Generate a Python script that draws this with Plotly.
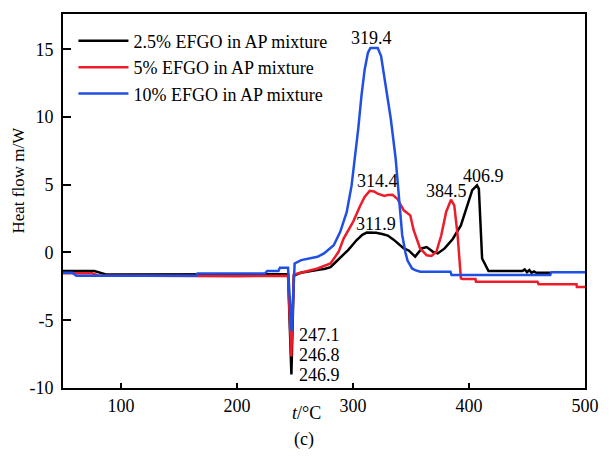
import plotly.graph_objects as go

# ---------------- data ----------------
series_names = ["2.5% EFGO in AP mixture", "5% EFGO in AP mixture", "10% EFGO in AP mixture"]

t_black = [50, 77, 87, 165, 200, 225, 240, 244, 246.9, 249, 255, 262, 269, 276, 280.6, 283.4, 290,
           296, 303, 308, 311.9, 320, 326, 330, 335, 340, 343.8, 348, 353.6, 359.3, 363.5, 369, 373,
           379, 386, 393, 398.6, 402.8, 406.9, 408.5, 411.3, 414, 416.8, 446, 448, 450, 452, 454,
           456, 458, 470]
hf_black = [-1.37, -1.37, -1.62, -1.62, -1.65, -1.65, -1.62, -1.6, -9.0, -1.7, -1.5, -1.42, -1.3,
            -1.2, -1.08, -0.85, -0.3, 0.2, 0.9, 1.3, 1.47, 1.45, 1.35, 1.25, 0.95, 0.55, 0.3, 0.15,
            -0.3, 0.3, 0.4, 0.05, -0.07, 0.3, 1.0, 2.0, 3.4, 4.6, 4.95, 4.7, -0.44, -0.93, -1.37,
            -1.37, -1.25, -1.45, -1.3, -1.5, -1.4, -1.5, -1.5]

t_red = [50, 75, 80, 165, 200, 244, 246.8, 249, 258, 269.4, 280.6, 287.6, 291.9, 296, 300.3, 305.9,
         310, 314.4, 318, 321.3, 325, 327, 330, 334, 338.2, 343.8, 349.4, 350.9, 352.3, 357.9, 363.5,
         367.7, 371.9, 376.1, 380.3, 384.5, 387.3, 390.2, 393, 394.4, 405.6, 406, 459, 460, 492.7,
         493, 500]
hf_red = [-1.54, -1.54, -1.7, -1.75, -1.75, -1.72, -7.67, -1.62, -1.42, -1.18, -0.81, 0.05, 1.03,
          1.7, 2.3, 3.4, 4.1, 4.55, 4.5, 4.34, 4.2, 4.17, 4.25, 4.26, 3.97, 3.11, 2.74, 2.13, 1.64,
          0.29, -0.2, -0.25, 0.05, 1.27, 2.99, 3.9, 3.48, 1.27, -1.91, -1.95, -1.95, -2.16, -2.16,
          -2.35, -2.35, -2.55, -2.55]

t_blue = [50, 58, 61.5, 165, 166, 224, 226, 235.7, 237, 244, 247.1, 249.7, 255.4, 263.8, 269.4, 275,
          283.4, 289, 294.6, 298.8, 301.6, 304.5, 307.3, 310.1, 312.9, 315, 319.4, 321.3, 324.2,
          328.4, 332.6, 336.8, 339.6, 342.4, 345.2, 347, 350.9, 353.6, 357.9, 384, 385, 470, 471, 500]
hf_blue = [-1.49, -1.49, -1.71, -1.71, -1.55, -1.55, -1.37, -1.37, -1.13, -1.13, -5.8, -0.81, -0.56,
           -0.44, -0.32, -0.07, 0.54, 1.52, 2.99, 4.95, 6.91, 9.12, 11.57, 13.53, 14.75, 15.1, 15.1,
           15.1, 14.5, 12.3, 9.85, 6.91, 3.97, 1.3, 0.0, -0.6, -1.18, -1.3, -1.42, -1.42, -1.67,
           -1.67, -1.45, -1.45]

# labelled peak / dip temperatures (series index, temperature)
peak_series = [2, 1, 0, 1, 0]
peak_temps = [319.4, 314.4, 311.9, 384.5, 406.9]
dip_series = [2, 1, 0]
dip_temps = [247.1, 246.8, 246.9]

x_ticks = [100, 200, 300, 400, 500]
y_ticks = [-10, -5, 0, 5, 10, 15]
y_ticktext = ["-10", "-5", "0", "5", "10", "15"]

colors = ["#000000", "#ec1c2a", "#1f4fe3"]
# --------------------------------------

FONT = "Liberation Serif, Times New Roman, serif"
xs = [t_black, t_red, t_blue]
ys = [hf_black, hf_red, hf_blue]

fig = go.Figure()
for name, x, y, c in zip(series_names, xs, ys, colors):
    fig.add_trace(go.Scatter(x=x, y=y, mode="lines", name=name,
                             line=dict(color=c, width=2.5)))

def value_at(si, t):
    return ys[si][xs[si].index(t)]

peak_shifts = [(-4, -2), (8, -2), (9, -3), (-5, -3), (6, -3)]
for si, t, (dx, dy) in zip(peak_series, peak_temps, peak_shifts):
    fig.add_annotation(x=t, y=value_at(si, t), text=f"{t:.1f}", showarrow=False,
                       xanchor="center", yanchor="bottom", xshift=dx, yshift=dy,
                       font=dict(family=FONT, size=18, color="black"))

dip_shifts = [(5, -4), (6, 1), (6, -1)]
for si, t, (dx, dy) in zip(dip_series, dip_temps, dip_shifts):
    fig.add_annotation(x=t, y=value_at(si, t), text=f"{t:.1f}", showarrow=False,
                       xanchor="left", yanchor="middle", xshift=dx, yshift=dy,
                       font=dict(family=FONT, size=18, color="black"))

# axis titles and caption
fig.add_annotation(xref="paper", yref="paper", x=0.4663, y=-0.066, text="<i>t</i>/°C",
                   showarrow=False, xanchor="center", yanchor="middle",
                   font=dict(family=FONT, size=18, color="black"))
fig.add_annotation(xref="paper", yref="paper", x=-0.086, y=0.555, text="Heat flow m/W",
                   textangle=-90, showarrow=False, xanchor="center", yanchor="middle",
                   font=dict(family=FONT, size=17, color="black"))
fig.add_annotation(xref="paper", yref="paper", x=0.462, y=-0.137, text="(c)",
                   showarrow=False, xanchor="center", yanchor="middle",
                   font=dict(family=FONT, size=18, color="black"))

axis_common = dict(showline=True, linecolor="black", linewidth=2, mirror=True,
                   showgrid=False, zeroline=False, ticks="inside", tickcolor="black",
                   tickwidth=1.5, tickfont=dict(family=FONT, size=18, color="black"))

fig.update_xaxes(range=[50, 500], tickvals=x_ticks, ticklen=5, **axis_common)
fig.update_yaxes(range=[-10, 17.6], tickvals=y_ticks, ticktext=y_ticktext, ticklen=8,
                 ticklabelstandoff=4, **axis_common)

fig.update_layout(
    width=611, height=456,
    margin=dict(l=63, r=14, t=13, b=68),
    paper_bgcolor="white", plot_bgcolor="white",
    font=dict(family=FONT, size=18, color="black"),
    showlegend=True,
    legend=dict(x=0.02, y=0.977, xanchor="left", yanchor="top",
                bgcolor="rgba(0,0,0,0)", borderwidth=0, itemwidth=50,
                font=dict(family=FONT, size=18, color="black"),
                tracegroupgap=0),
)

fig.write_html("out.html", config={"displayModeBar": False},
               post_script="document.body.style.margin='0';document.body.style.overflow='hidden';")
